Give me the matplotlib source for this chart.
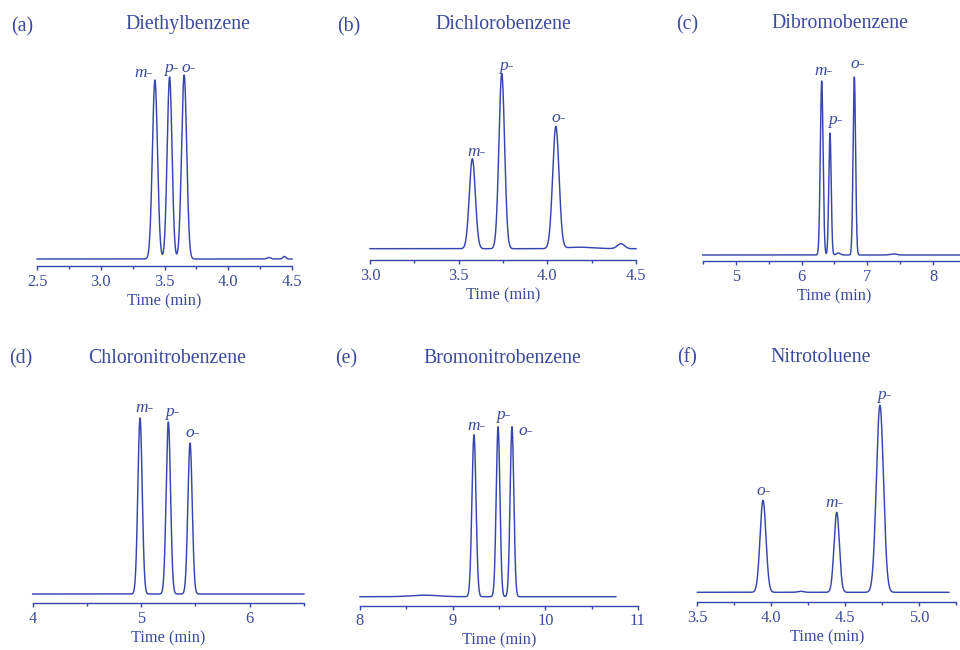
import numpy as np
import matplotlib
matplotlib.use("Agg")
import matplotlib.pyplot as plt
from matplotlib.ticker import MultipleLocator, FormatStrFormatter

# Peak tables (retention time in min,
# peak height in arbitrary units, peak width sigma in min)
isomers_a = ["m-", "p-", "o-"]
times_a = [3.425, 3.54, 3.654]
heights_a = [179, 182, 184]
widths_a = [0.02, 0.019, 0.02]
minor_times_a = [4.32, 4.44]
minor_heights_a = [1.5, 2.5]
minor_widths_a = [0.015, 0.012]

isomers_b = ["m-", "p-", "o-"]
times_b = [3.577, 3.743, 4.048]
heights_b = [90, 175, 122]
widths_b = [0.017, 0.016, 0.018]
minor_times_b = [4.18, 4.415]
minor_heights_b = [1.5, 5]
minor_widths_b = [0.08, 0.02]

isomers_c = ["m-", "p-", "o-"]
times_c = [6.307, 6.433, 6.803]
heights_c = [174, 122, 178]
widths_c = [0.021, 0.018, 0.019]
minor_times_c = [6.56, 7.4]
minor_heights_c = [2, 1]
minor_widths_c = [0.03, 0.05]

isomers_d = ["m-", "p-", "o-"]
times_d = [4.989, 5.25, 5.45]
heights_d = [176, 172, 151]
widths_d = [0.02, 0.02, 0.02]
minor_times_d = []
minor_heights_d = []
minor_widths_d = []

isomers_e = ["m-", "p-", "o-"]
times_e = [9.23, 9.49, 9.64]
heights_e = [162, 170, 170]
widths_e = [0.022, 0.02, 0.02]
minor_times_e = [8.7]
minor_heights_e = [1.5]
minor_widths_e = [0.15]

isomers_f = ["o-", "m-", "p-"]
times_f = [3.944, 4.442, 4.734]
heights_f = [92, 80, 187]
widths_f = [0.02, 0.018, 0.024]
minor_times_f = [4.2]
minor_heights_f = [1]
minor_widths_f = [0.02]

titles = ["Diethylbenzene", "Dichlorobenzene", "Dibromobenzene",
          "Chloronitrobenzene", "Bromonitrobenzene", "Nitrotoluene"]
letters = ["(a)", "(b)", "(c)", "(d)", "(e)", "(f)"]
run_ranges = [(2.5, 4.5), (3.0, 4.5), (4.5, 8.9), (4.0, 6.5), (8.0, 10.76), (3.5, 5.2)]

LINE = "#3646ad"
TEXT = "#3a4a9e"
W, H = 960, 650

plt.rcParams["font.family"] = ["Liberation Serif", "DejaVu Serif"]

fig = plt.figure(figsize=(W / 100, H / 100), dpi=100)

# layout in pixels: left, right, spine y, baseline lift, xlim, tick steps, label format
layout = [
    dict(l=37, r=292, spine=266, lift=7, xlim=(2.5, 4.5), major=0.5, minor=0.25, fmt="%.1f",
         title=(188, 29.5), letter=(11, 31),
         offs=[(-11, 3), (2, 5), (5, 3)]),
    dict(l=370, r=636, spine=260, lift=11.3, xlim=(3.0, 4.5), major=0.5, minor=0.25, fmt="%.1f",
         title=(503, 29), letter=(337, 31),
         offs=[(4, 3), (4.5, 3.5), (2.5, 5)]),
    dict(l=702.8, r=966, spine=261, lift=6, xlim=(4.5, 8.5), major=1, minor=0.5, fmt="%d",
         title=(840, 28.5), letter=(676, 29.5),
         offs=[(2, 6), (5, 8.5), (3, 9)]),
    dict(l=32.7, r=304, spine=603.3, lift=9.3, xlim=(4.0, 6.5), major=1, minor=0.5, fmt="%d",
         title=(167, 362.7), letter=(9.5, 363.5),
         offs=[(4.5, 6.5), (3.5, 6.3), (2.5, 6)]),
    dict(l=360, r=638, spine=605.7, lift=9, xlim=(8.0, 11.0), major=1, minor=0.5, fmt="%d",
         title=(502, 363.3), letter=(335, 363.5),
         offs=[(3, 5), (5.5, 7.4), (14, -8.3)]),
    dict(l=697.3, r=956.3, spine=602.3, lift=10, xlim=(3.5, 5.25), major=0.5, minor=0.25, fmt="%.1f",
         title=(821, 361.7), letter=(677, 362),
         offs=[(1, 5), (-2, 5), (4.5, 6.7)]),
]

panels = [
    (isomers_a, times_a, heights_a, widths_a, minor_times_a, minor_heights_a, minor_widths_a),
    (isomers_b, times_b, heights_b, widths_b, minor_times_b, minor_heights_b, minor_widths_b),
    (isomers_c, times_c, heights_c, widths_c, minor_times_c, minor_heights_c, minor_widths_c),
    (isomers_d, times_d, heights_d, widths_d, minor_times_d, minor_heights_d, minor_widths_d),
    (isomers_e, times_e, heights_e, widths_e, minor_times_e, minor_heights_e, minor_widths_e),
    (isomers_f, times_f, heights_f, widths_f, minor_times_f, minor_heights_f, minor_widths_f),
]

AX_H = 230  # axes height in pixels

for i, (names, tr, hh, ww, mt, mh, mw) in enumerate(panels):
    lay = layout[i]
    ax = fig.add_axes([lay["l"] / W, 1 - lay["spine"] / H,
                       (lay["r"] - lay["l"]) / W, AX_H / H])

    # build trace from the peak table (gaussian peak shapes)
    t = np.linspace(run_ranges[i][0], run_ranges[i][1], 3000)
    signal = np.zeros_like(t)
    for t0, h, s in zip(list(tr) + list(mt), list(hh) + list(mh), list(ww) + list(mw)):
        signal += h * np.exp(-(t - t0) ** 2 / (2 * s ** 2))
    ax.plot(t, signal, color=LINE, lw=1.05, clip_on=False)

    ax.set_xlim(*lay["xlim"])
    ax.set_ylim(-lay["lift"], AX_H - lay["lift"])

    for t0, h, name, (dx, dy) in zip(tr, hh, names, lay["offs"]):
        ax.annotate(name, xy=(t0, h), xytext=(dx, dy), textcoords="offset pixels",
                    ha="center", va="baseline", fontsize=12.5, fontstyle="italic",
                    color=TEXT, annotation_clip=False)

    for side in ["top", "right", "left"]:
        ax.spines[side].set_visible(False)
    ax.spines["bottom"].set_color(LINE)
    ax.spines["bottom"].set_linewidth(1.0)
    ax.set_yticks([])
    ax.xaxis.set_major_locator(MultipleLocator(lay["major"]))
    ax.xaxis.set_minor_locator(MultipleLocator(lay["minor"]))
    ax.xaxis.set_major_formatter(FormatStrFormatter(lay["fmt"]))
    ax.tick_params(axis="x", which="major", length=3.2, width=1.0, color=LINE,
                   labelcolor=TEXT, labelsize=11.8, pad=2.3)
    ax.tick_params(axis="x", which="minor", length=2.3, width=1.0, color=LINE)
    ax.set_xlabel("Time (min)", fontsize=11.8, color=TEXT, labelpad=2.5)
    ax.patch.set_alpha(0)

    fig.text(lay["title"][0] / W, 1 - lay["title"][1] / H, titles[i],
             ha="center", va="baseline", fontsize=14.3, color=TEXT)
    fig.text(lay["letter"][0] / W, 1 - lay["letter"][1] / H, letters[i],
             ha="left", va="baseline", fontsize=14.3, color=TEXT)

fig.savefig("out.png", dpi=100)
